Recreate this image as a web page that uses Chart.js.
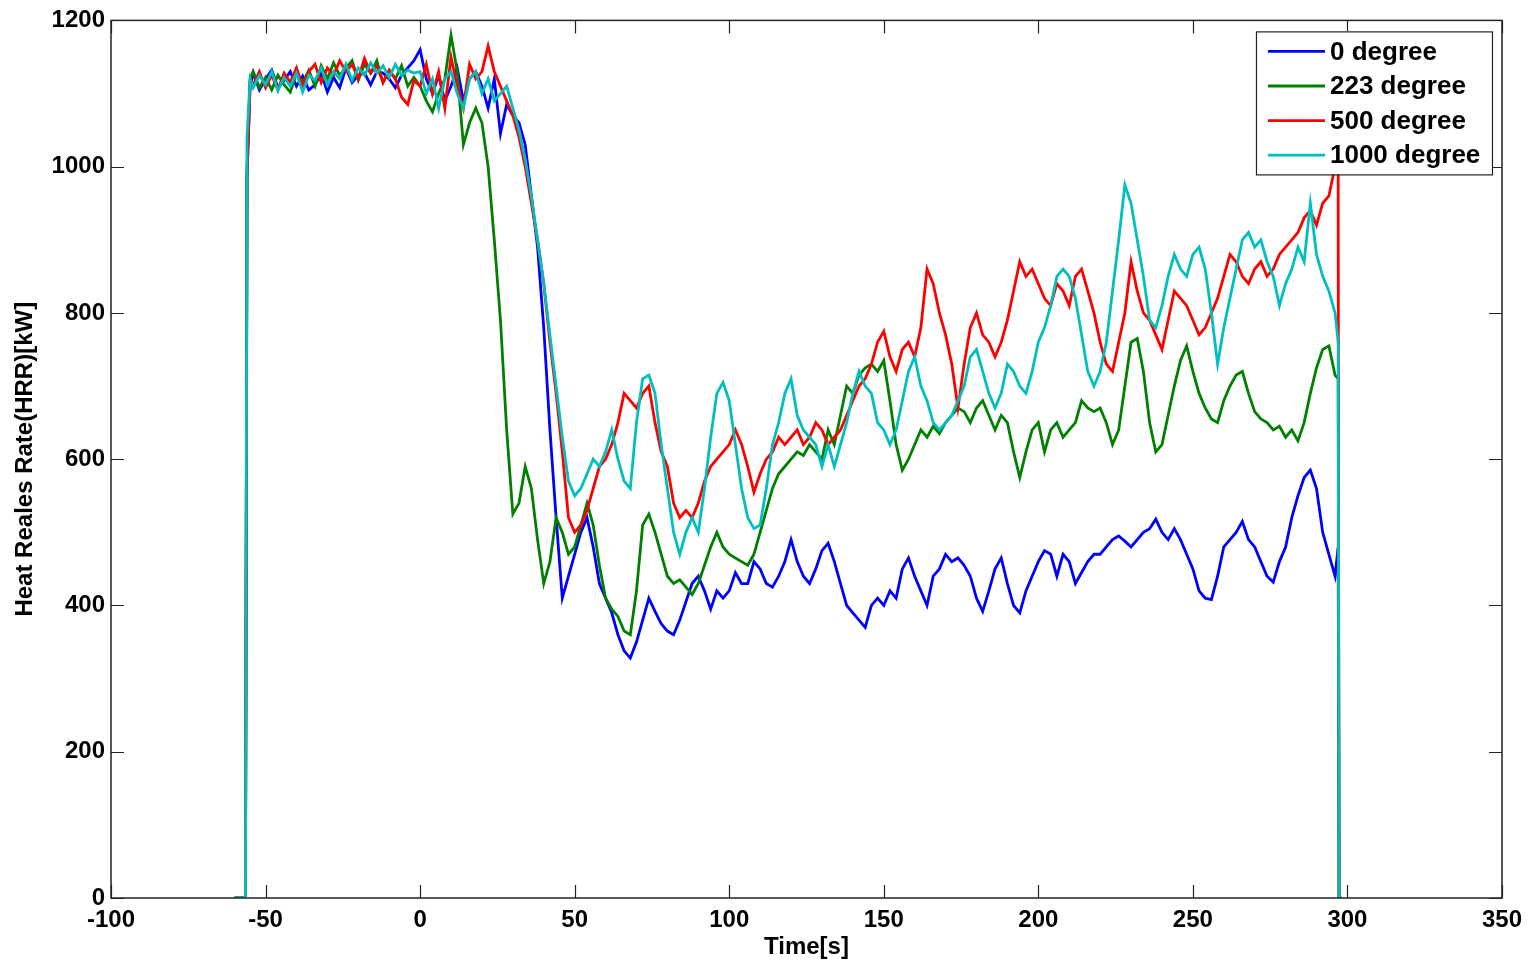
<!DOCTYPE html>
<html>
<head>
<meta charset="utf-8">
<script src="https://cdn.jsdelivr.net/npm/chart.js@4.4.1/dist/chart.umd.min.js"></script>
<style>
  body { margin: 0; background: #fff; }
  canvas { display: block; }
</style>
</head>
<body>
<canvas id="hrrChart" width="1530" height="965"></canvas>
<script>
// time axis [s]
const times = [
  -60, -56.5, -56, -55,
  -54, -52, -50, -48, -46, -44, -42, -40, -38, -36, -34, -32, -30, -28, -26, -24, -22, -20, -18, -16, -14, -12, -10, -8, -6, -4, -2,
  0, 2, 4, 6, 8, 10, 12, 14, 16, 18,
  20, 22, 24, 26, 28, 30, 32, 34, 36, 38,
  40, 42, 44, 46, 48, 50, 52, 54, 56, 58,
  60, 62, 64, 66, 68, 70, 72, 74, 76, 78,
  80, 82, 84, 86, 88, 90, 92, 94, 96, 98,
  100, 102, 104, 106, 108, 110, 112, 114, 116, 118,
  120, 122, 124, 126, 128, 130, 132, 134, 136, 138,
  140, 142, 144, 146, 148, 150, 152, 154, 156, 158,
  160, 162, 164, 166, 168, 170, 172, 174, 176, 178,
  180, 182, 184, 186, 188, 190, 192, 194, 196, 198,
  200, 202, 204, 206, 208, 210, 212, 214, 216, 218,
  220, 222, 224, 226, 228, 230, 232, 234, 236, 238,
  240, 242, 244, 246, 248, 250, 252, 254, 256, 258,
  260, 262, 264, 266, 268, 270, 272, 274, 276, 278,
  280, 282, 284, 286, 288, 290, 292, 294, 296,
  297, 297.3, 298
];

// HRR [kW] for each case
const deg0 = [
  0, 0, 985, 1110,
  1128, 1105, 1120, 1132, 1108, 1118, 1130, 1110, 1124, 1105, 1112, 1128, 1102, 1122, 1108, 1135, 1115, 1125, 1128, 1112, 1130, 1128, 1120,
  1108, 1125, 1135, 1145,
  1160, 1120, 1100, 1125, 1090, 1110, 1135, 1090, 1120, 1130,
  1110, 1080, 1120, 1045, 1085, 1070, 1060, 1030, 960, 890,
  780, 640, 520, 410, 440, 470, 500, 520, 480, 430,
  410, 390, 360, 338, 328, 350, 380, 410, 392, 375,
  365, 360, 380, 405, 430, 440, 420, 395, 420, 410,
  420, 445, 430, 430, 460, 450, 430, 425, 440, 460,
  490, 460, 440, 430, 450, 475, 485, 460, 430, 400,
  390, 380, 370, 400, 410, 400, 420, 410, 450, 465,
  440, 420, 400, 440, 450, 470, 460, 465, 455, 440,
  410, 392, 420, 450, 465, 430, 400, 390, 420, 440,
  460, 475, 470, 440, 470, 460, 430, 445, 460, 470,
  470, 480, 490, 495, 488, 480, 490, 500, 505, 518,
  500, 490, 505, 490, 470, 450, 420, 410, 408, 440,
  480, 490, 500, 515, 490, 480, 460, 440, 432, 460,
  480, 520, 550, 575, 585, 560, 500, 470, 440,
  480, 0, 0
];

const deg223 = [
  0, 0, 1000, 1120,
  1130, 1108, 1122, 1105, 1125, 1112, 1102, 1128, 1115, 1132, 1110, 1138, 1120, 1142, 1125, 1135, 1145, 1118, 1140, 1128, 1145, 1115, 1132,
  1120, 1138, 1110, 1122,
  1110, 1090, 1075, 1100, 1120, 1180, 1130, 1030, 1060, 1080,
  1060, 1000, 900, 790, 640, 525, 540, 590, 560, 490,
  430, 460, 520, 500, 470, 480, 510, 540, 510, 455,
  410, 395, 385, 365, 360, 420, 510, 525, 500, 470,
  440, 430, 435, 425, 415, 430, 455, 480, 500, 480,
  470, 465, 460, 455, 470, 500, 530, 560, 580, 590,
  600, 610, 605, 620, 610, 600, 640, 620, 660, 700,
  690, 715, 725, 730, 720, 735, 680, 620, 585, 600,
  620, 640, 630, 645, 635, 650, 660, 670, 665, 650,
  670, 680, 660, 640, 660, 650, 610, 575, 610, 640,
  650, 610, 640, 650, 630, 640, 650, 680, 670, 665,
  670, 650, 620, 640, 700, 760, 765, 720, 650, 610,
  620, 660, 700, 735, 755, 720, 690, 670, 655, 650,
  680, 700, 715, 720, 690, 665, 655, 650, 640, 645,
  630, 640, 625, 650, 690, 725, 750, 755, 715,
  710, 0, 0
];

const deg500 = [
  0, 0, 990, 1115,
  1112, 1130, 1108, 1125, 1105, 1128, 1115, 1135, 1110, 1130, 1140, 1115, 1135, 1125, 1145, 1130, 1140, 1120, 1148, 1128, 1138, 1115, 1132,
  1120, 1095, 1085, 1118,
  1110, 1140, 1100, 1130, 1080, 1150, 1110, 1080, 1140, 1120,
  1130, 1165, 1130, 1110, 1090, 1070, 1040, 1000, 950, 900,
  840, 760, 690, 610, 520, 500, 510, 530, 560, 590,
  600, 620, 650, 690, 680, 670, 690, 700, 650, 610,
  590, 540, 520, 530, 520, 540, 570, 590, 600, 610,
  620, 640, 620, 590, 555, 580, 600, 610, 630, 620,
  630, 640, 620, 630, 650, 640, 620, 630, 640, 660,
  680, 700, 710, 730, 760, 775, 740, 720, 750, 760,
  740, 780, 860, 840, 800, 770, 730, 670, 730, 780,
  800, 770, 760, 740, 760, 790, 830, 870, 850, 860,
  840, 820, 810, 840, 830, 810, 850, 860, 830, 800,
  760, 730, 720, 760, 800, 870, 830, 800, 790, 770,
  750, 790, 830, 820, 810, 790, 770, 780, 800, 820,
  850, 880, 870, 850, 840, 860, 870, 850, 860, 880,
  890, 900, 910, 930, 940, 920, 950, 960, 1000,
  1010, 0, 0
];

const deg1000 = [
  0, 0, 1040, 1120,
  1108, 1125, 1112, 1130, 1104, 1122, 1110, 1128, 1102, 1125, 1118, 1135, 1112, 1130, 1120, 1140, 1118, 1135, 1125, 1142, 1128, 1138, 1122,
  1140, 1125, 1132, 1128,
  1130, 1100, 1120, 1080, 1120, 1130, 1100, 1080, 1120, 1130,
  1100, 1120, 1090, 1100, 1110, 1080, 1050, 1010, 960, 900,
  840, 770, 700, 630, 570, 550, 560, 580, 600, 590,
  610, 640, 600, 570, 560, 650, 710, 715, 690, 620,
  560, 500, 470, 500, 520, 500, 560, 630, 690, 705,
  680, 620, 560, 520, 505, 510, 560, 620, 650, 690,
  710, 660, 640, 630, 620, 590, 620, 590, 620, 650,
  690, 720, 700, 690, 650, 640, 620, 640, 680, 720,
  740, 700, 680, 650, 640, 650, 660, 680, 700, 740,
  750, 720, 690, 670, 690, 730, 720, 700, 690, 720,
  760, 780, 810, 850, 860, 850, 820, 770, 720, 700,
  720, 760, 830, 900, 975, 950, 900, 850, 790, 780,
  810, 850, 880, 860, 850, 880, 890, 860, 800, 730,
  780, 820, 860, 900, 910, 890, 900, 870, 850, 810,
  840, 860, 890, 870, 950, 880, 850, 830, 800,
  760, 0, 0
];

const seriesNames = ["0 degree", "223 degree", "500 degree", "1000 degree"];
const seriesColors = ["#0000ff", "#008000", "#ff0000", "#00bfbf"];
const seriesData = [deg0, deg223, deg500, deg1000];

const xTicks = [-100, -50, 0, 50, 100, 150, 200, 250, 300, 350];
const yTicks = [0, 200, 400, 600, 800, 1000, 1200];

const FONT = "'Liberation Sans', Arial, sans-serif";

let datasets = [];
for (let i = 0; i < seriesData.length; i++) {
  datasets.push({
    label: seriesNames[i],
    data: times.map((t, j) => ({ x: t, y: seriesData[i][j] })),
    borderColor: seriesColors[i],
    borderWidth: 2.8,
    pointRadius: 0,
    tension: 0,
    order: seriesData.length - i,
  });
}

// matlab style box with inward ticks on all four sides
const matlabBox = {
  id: "matlabBox",
  afterDraw(chart) {
    const { ctx, chartArea: a, scales } = chart;
    const len = 13;
    ctx.save();
    ctx.strokeStyle = "#222";
    ctx.lineWidth = 1.5;
    ctx.strokeRect(a.left, a.top, a.right - a.left, a.bottom - a.top);
    ctx.beginPath();
    xTicks.forEach((v) => {
      const px = Math.round(scales.x.getPixelForValue(v)) + 0.5;
      ctx.moveTo(px, a.bottom);
      ctx.lineTo(px, a.bottom - len);
      ctx.moveTo(px, a.top);
      ctx.lineTo(px, a.top + len);
    });
    yTicks.forEach((v) => {
      const py = Math.round(scales.y.getPixelForValue(v)) + 0.5;
      ctx.moveTo(a.left, py);
      ctx.lineTo(a.left + len, py);
      ctx.moveTo(a.right, py);
      ctx.lineTo(a.right - len, py);
    });
    ctx.lineWidth = 1.2;
    ctx.stroke();
    ctx.restore();
  },
};

// legend box in the upper right corner
const boxLegend = {
  id: "boxLegend",
  afterDraw(chart) {
    const { ctx, chartArea: a } = chart;
    const w = 236, h = 143;
    const left = a.right - 10 - w;
    const top = a.top + 11;
    ctx.save();
    ctx.fillStyle = "#fff";
    ctx.fillRect(left, top, w, h);
    ctx.strokeStyle = "#222";
    ctx.lineWidth = 1.2;
    ctx.strokeRect(left + 0.5, top + 0.5, w, h);
    ctx.font = "bold 26px " + FONT;
    ctx.textBaseline = "middle";
    chart.data.datasets.forEach((ds, i) => {
      const y = top + 20 + i * 34.6;
      ctx.strokeStyle = ds.borderColor;
      ctx.lineWidth = 2.8;
      ctx.beginPath();
      ctx.moveTo(left + 12, y);
      ctx.lineTo(left + 69, y);
      ctx.stroke();
      ctx.fillStyle = "#000";
      ctx.fillText(ds.label, left + 74, y + 1);
    });
    ctx.restore();
  },
};

let ctx = document.getElementById("hrrChart").getContext("2d");
let hrrChart = new Chart(ctx, {
  type: "line",
  data: { datasets: datasets },
  options: {
    responsive: false,
    animation: false,
    layout: { padding: { left: 0, top: 17, right: 26, bottom: 0 } },
    plugins: {
      legend: { display: false },
      tooltip: { enabled: false },
    },
    scales: {
      x: {
        type: "linear",
        min: -100,
        max: 350,
        afterBuildTicks: (scale) => {
          scale.ticks = xTicks.map((v) => ({ value: v }));
        },
        afterFit: (scale) => {
          scale.height = 67;
        },
        grid: { display: false, drawTicks: false },
        border: { display: false },
        ticks: {
          autoSkip: false,
          maxRotation: 0,
          padding: 8,
          color: "#000",
          font: { family: FONT, size: 24, weight: "bold" },
          callback: (v) => String(v),
        },
        title: {
          display: true,
          text: "Time[s]",
          color: "#000",
          padding: { top: 0, bottom: 3 },
          font: { family: FONT, size: 24, weight: "bold" },
        },
      },
      y: {
        min: 0,
        max: 1200,
        afterBuildTicks: (scale) => {
          scale.ticks = yTicks.map((v) => ({ value: v }));
        },
        afterFit: (scale) => {
          scale.width = 111;
        },
        grid: { display: false, drawTicks: false },
        border: { display: false },
        ticks: {
          padding: 6,
          color: "#000",
          font: { family: FONT, size: 24, weight: "bold" },
          callback: (v) => String(v),
        },
        title: {
          display: true,
          text: "Heat Reales Rate(HRR)[kW]",
          color: "#000",
          padding: { top: 11, bottom: 0 },
          font: { family: FONT, size: 24, weight: "bold" },
        },
      },
    },
  },
  plugins: [matlabBox, boxLegend],
});
</script>
</body>
</html>
